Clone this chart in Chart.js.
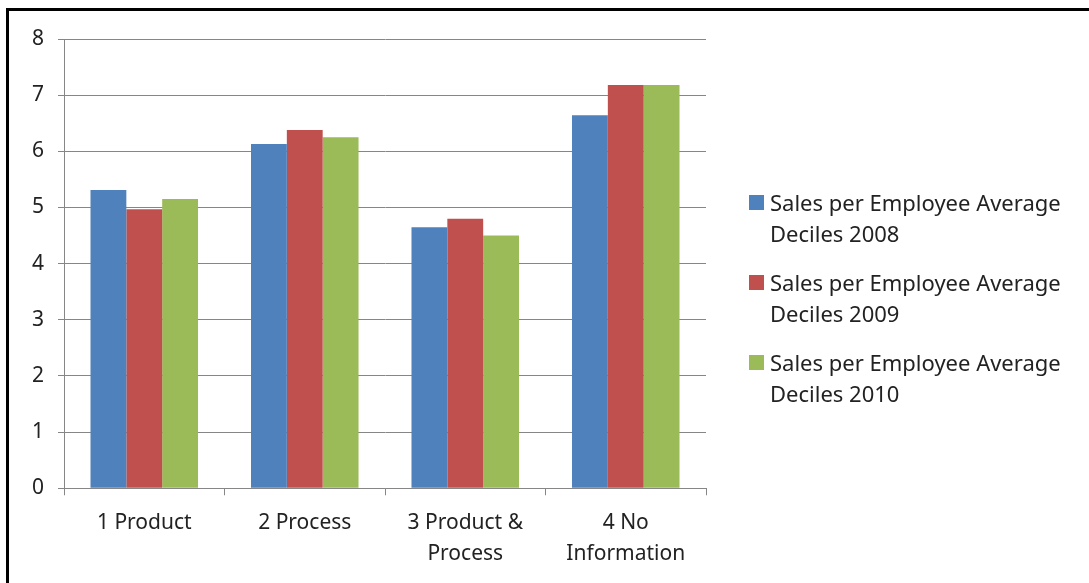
<!DOCTYPE html>
<html>
<head>
<meta charset="utf-8">
<script src="https://cdn.jsdelivr.net/npm/chart.js@4.4.1/dist/chart.umd.min.js"></script>
<style>
    html, body { margin: 0; padding: 0; background: #fff; }
    body { width: 1089px; height: 583px; position: relative; overflow: hidden; }
    #frame {
        position: absolute; left: 6px; top: 8px; width: 1100px; height: 600px;
        border-top: 3px solid #000; border-left: 3px solid #000;
    }
    #chart-box { position: absolute; left: 0; top: 0; width: 1089px; height: 583px; }
    #legend {
        position: absolute; left: 749px; top: 187px;
        font-family: "Noto Sans", "Open Sans", sans-serif; font-size: 22px; color: #222;
        list-style: none; margin: 0; padding: 0;
    }
    #legend li { position: relative; padding-left: 21px; line-height: 31px; margin-bottom: 18px; white-space: nowrap; }
    #legend li span.box { position: absolute; left: 0; top: 8px; width: 15px; height: 15px; }
</style>
</head>
<body>
<div id="frame"></div>
<div id="chart-box"><canvas id="sales-chart" width="1089" height="583"></canvas></div>
<ul id="legend"></ul>
<script>
const categories = [`1 Product`, `2 Process`, [`3 Product &`, `Process`], [`4 No`, `Information`]];
const seriesNames = [
    [`Sales per Employee Average`, `Deciles 2008`],
    [`Sales per Employee Average`, `Deciles 2009`],
    [`Sales per Employee Average`, `Deciles 2010`]
];
const values2008 = [5.31, 6.13, 4.65, 6.64];
const values2009 = [4.97, 6.38, 4.80, 7.18];
const values2010 = [5.15, 6.25, 4.50, 7.18];
const colors = [`#4f81bd`, `#c0504d`, `#9bbb59`];

const seriesValues = [values2008, values2009, values2010];

function buildLegend(chart) {
    const list = document.querySelector(`#legend`);
    list.innerHTML = ``;
    chart.data.datasets.forEach((ds, index) => {
        const item = document.createElement(`li`);
        const box = document.createElement(`span`);
        box.className = `box`;
        box.style.background = ds.backgroundColor;
        item.append(box);
        seriesNames[index].forEach((line, i) => {
            if (i > 0) {
                item.append(document.createElement(`br`));
            }
            item.append(document.createTextNode(line));
        });
        list.append(item);
    });
}

const font = `"Noto Sans", "Open Sans", sans-serif`;

const ctx = document.querySelector(`#sales-chart`).getContext(`2d`);
const salesChart = new Chart(ctx, {
    type: `bar`,
    data: {
        labels: categories,
        datasets: seriesValues.map((data, index) => ({
            label: seriesNames[index].join(` `),
            data: data,
            backgroundColor: colors[index],
            borderWidth: 0,
            categoryPercentage: 0.67,
            barPercentage: 1
        }))
    },
    options: {
        responsive: false,
        animation: false,
        layout: {
            padding: { left: 18, right: 383, top: 39, bottom: 2 }
        },
        plugins: {
            legend: { display: false },
            tooltip: { enabled: false }
        },
        scales: {
            x: {
                grid: {
                    offset: true,
                    drawOnChartArea: false,
                    drawTicks: true,
                    tickLength: 7,
                    color: `#868686`
                },
                border: { color: `#868686` },
                ticks: {
                    color: `#222`,
                    padding: 12,
                    maxRotation: 0,
                    font: { family: font, size: 21, lineHeight: 1.47 }
                }
            },
            y: {
                min: 0,
                max: 8,
                ticks: {
                    stepSize: 1,
                    color: `#222`,
                    padding: 14,
                    font: { family: font, size: 21 }
                },
                grid: { color: `#868686`, tickLength: 6 },
                border: { color: `#868686` }
            }
        }
    }
});

buildLegend(salesChart);
</script>
</body>
</html>
